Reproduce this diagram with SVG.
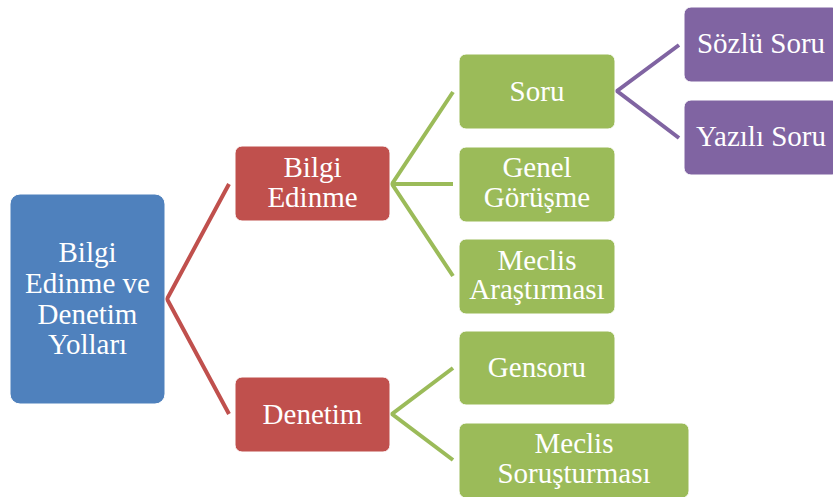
<svg xmlns="http://www.w3.org/2000/svg" width="833" height="497" viewBox="0 0 833 497">
<style>
text{font-family:"Liberation Serif","Times New Roman",serif;font-size:29px;fill:#fff;text-anchor:middle}
.b{fill:#4F81BD}.r{fill:#C0504D}.g{fill:#9BBB59}.p{fill:#8064A2}
rect{stroke:#fff;stroke-width:1}
.c{fill:none;stroke-width:4;stroke-linejoin:miter}
</style>
<g id="connectors">
<polyline class="c" stroke="#C0504D" points="229,184 167,299 229,414"/>
<polyline class="c" stroke="#9BBB59" points="453,92 392,184 453,276"/>
<line class="c" stroke="#9BBB59" x1="392" y1="184" x2="453" y2="184"/>
<polyline class="c" stroke="#9BBB59" points="453,368 392,414 453,460"/>
<polyline class="c" stroke="#8064A2" points="679,45 617,91 679,138"/>
</g>
<g id="root"><rect class="b" x="10" y="194" width="155" height="210" rx="10"/>
<text x="87.5" y="262">Bilgi</text><text x="87.5" y="293">Edinme ve</text><text x="87.5" y="324">Denetim</text><text x="87.5" y="354">Yolları</text></g>
<g id="bilgi-edinme"><rect class="r" x="235" y="146" width="155" height="75" rx="7"/>
<text x="312.5" y="177">Bilgi</text><text x="312.5" y="207">Edinme</text></g>
<g id="denetim"><rect class="r" x="235" y="377" width="155" height="75" rx="7"/>
<text x="312.5" y="424">Denetim</text></g>
<g id="soru"><rect class="g" x="459" y="54" width="156" height="75" rx="7"/>
<text x="537" y="101">Soru</text></g>
<g id="genel-gorusme"><rect class="g" x="459" y="147" width="156" height="75" rx="7"/>
<text x="537" y="177">Genel</text><text x="537" y="207">Görüşme</text></g>
<g id="meclis-arastirmasi"><rect class="g" x="459" y="239" width="156" height="75" rx="7"/>
<text x="537" y="270">Meclis</text><text x="537" y="299">Araştırması</text></g>
<g id="gensoru"><rect class="g" x="459" y="331" width="156" height="74" rx="7"/>
<text x="537" y="377">Gensoru</text></g>
<g id="meclis-sorusturmasi"><rect class="g" x="459" y="423" width="230" height="75" rx="7"/>
<text x="574" y="453">Meclis</text><text x="574" y="483">Soruşturması</text></g>
<g id="sozlu-soru"><rect class="p" x="684" y="7" width="155" height="75" rx="7"/>
<text x="761" y="53">Sözlü Soru</text></g>
<g id="yazili-soru"><rect class="p" x="684" y="100" width="155" height="75" rx="7"/>
<text x="761" y="146">Yazılı Soru</text></g>
</svg>
